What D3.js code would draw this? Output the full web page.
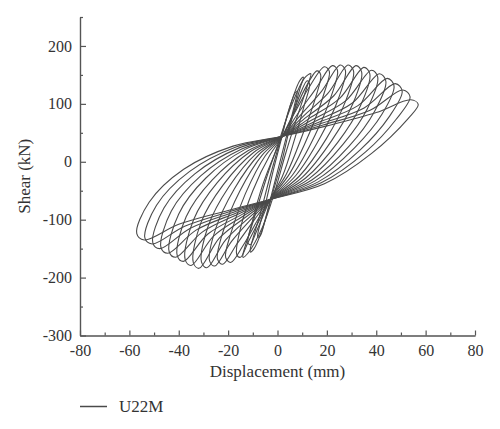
<!DOCTYPE html>
<html>
<head>
<meta charset="utf-8">
<script src="https://cdnjs.cloudflare.com/ajax/libs/d3/7.8.5/d3.min.js"></script>
<style>
  body { margin: 0; background: #fff; }
  svg { display: block; }
  .axis text { font-family: "Liberation Serif", serif; font-size: 16px; fill: #333; }
  .axis path, .axis line { stroke: #555; stroke-width: 1.2; }
  .title { font-family: "Liberation Serif", serif; font-size: 17px; fill: #333; }
</style>
</head>
<body>
<svg id="chart" width="500" height="429"></svg>
<script>
// hysteresis loops, [displacement mm, shear kN]
var loopC1 = [[-8,-125],[-5,-75],[-2,-20],[1,30],[4,80],[7,118],[8,122],[7,100],[4,50],[1,0],[-2,-50],[-5,-100],[-7,-128],[-8,-130]];
var loopC2 = [[-11,-150],[-7,-90],[-3,-25],[1,35],[5,95],[9,140],[10.5,146],[9,125],[5,60],[2,5],[-2,-55],[-6,-115],[-9.5,-150],[-11,-156]];
var loopC3 = [[-14,-160],[-10,-105],[-5,-35],[0,28],[5,90],[11,145],[13.5,152],[12,130],[7,65],[3,10],[-1,-50],[-6,-112],[-12,-158],[-14,-165]];
var loopS1 = [[-12,-140],[-10,-100],[-6,-40],[-1,15],[2,44],[6,80],[9,115],[12,140],[13,134],[11,100],[7,40],[2,-25],[-3,-65],[-6,-95],[-9,-125],[-11,-143]];
var loopS2 = [[-16.5,-160],[-15,-115],[-10,-50],[-3,12],[2,44],[6.5,83],[11,125],[16,157],[17.5,150],[15.5,112],[10,45],[3.5,-22],[-3,-65],[-7,-98],[-12,-140],[-15,-165]];
var loop01 = [[-21,-165],[-19,-125],[-13,-55],[-5,10],[2,44],[7,85],[13,130],[19,164],[21,156],[19,120],[13,50],[5,-20],[-3,-65],[-8,-100],[-14,-145],[-19,-174]];
var loop02 = [[-24.3,-168],[-22,-120],[-15.3,-51],[-6.2,11.5],[2,44],[8.2,83],[15.5,126],[22.2,166],[24.3,158],[21.9,115],[15.3,46.7],[6.3,-21.6],[-3,-65],[-9.1,-98.5],[-16.4,-141.6],[-22.2,-177]];
var loop03 = [[-27.5,-171],[-25,-115],[-17.5,-47],[-7.4,13],[2,44],[9.4,81],[17.9,122],[25.4,167],[27.5,158],[24.8,110.5],[17.5,43.5],[7.5,-23.3],[-3,-65],[-10.2,-97],[-18.7,-138],[-25.4,-180]];
var loop04 = [[-30.8,-173],[-28,-110],[-19.8,-44],[-8.5,14.6],[2,44],[10.5,79],[20.4,118],[28.6,167],[30.8,157],[27.7,106],[19.8,40],[8.8,-25],[-3,-65],[-11.3,-95.6],[-21,-135],[-28.6,-183]];
var loop05 = [[-34.1,-174],[-31,-105],[-22,-40],[-9.7,16],[2,44],[11.7,77],[22.8,114],[31.8,166],[34.1,155],[30.6,101],[22,37],[10.1,-26.5],[-3,-65],[-12.4,-94],[-23.5,-131.5],[-31.8,-184]];
var loop06 = [[-37.4,-169],[-34,-100],[-24.4,-36],[-10.9,17.7],[2,44],[12.9,75],[25.3,110],[35,163],[37.4,152],[33.5,96],[24.4,33.6],[11.4,-28],[-3,-65],[-13.5,-92.7],[-25.8,-128],[-35,-179]];
var loop07 = [[-40.6,-162],[-37,-95],[-26.6,-32],[-12,19],[2,44],[14.1,72.5],[27.7,105.5],[38.1,158],[40.6,146],[36.4,91.6],[26.6,30.4],[12.6,-30],[-3,-65],[-14.5,-91.3],[-28.2,-124.8],[-38.1,-172]];
var loop08 = [[-43.9,-155],[-40,-90],[-29,-28],[-13.3,21],[2,44],[15.3,70],[30.2,101],[41.3,152],[43.9,139],[39.3,87],[29,27],[13.9,-31.5],[-3,-65],[-15.6,-89.8],[-30.5,-121.5],[-41.3,-165]];
var loop09 = [[-47.2,-148],[-43,-85],[-31,-24],[-14.5,22],[2,44],[16.5,68],[32.6,97],[44.5,144],[47.2,131],[42.3,82],[31.2,24],[15.2,-33],[-3,-65],[-16.7,-88.4],[-33,-118],[-44.5,-158]];
var loop10 = [[-50.5,-140],[-46,-80],[-33.5,-21],[-15.6,24],[2,44],[17.6,66],[35.1,93],[47.7,135],[50.5,122],[45.2,77.5],[33.5,20.5],[16.5,-34.7],[-3,-65],[-17.8,-87],[-35.3,-114.7],[-47.7,-150]];
var loop11 = [[-53.7,-132],[-49,-75],[-35.7,-17],[-16.8,25.5],[2,44],[18.8,64],[37.5,89],[50.8,124],[53.7,112],[48,73],[35.7,17],[17.7,-36.4],[-3,-65],[-18.9,-85.5],[-37.6,-111.4],[-50.8,-142]];
var loop12 = [[-57,-124],[-52,-70],[-38,-13],[-18,27],[2,44],[20,62],[40,85],[54,107],[57,99],[53,75],[38,14],[19,-38],[-3,-65],[-20,-84],[-40,-108],[-54,-135]];

var loops = [loopC1, loopC2, loopC3, loopS1, loopS2, loop01, loop02, loop03, loop04,
             loop05, loop06, loop07, loop08, loop09, loop10, loop11, loop12];

var xMajor = [-80, -60, -40, -20, 0, 20, 40, 60, 80];
var xMinor = [-70, -50, -30, -10, 10, 30, 50, 70];
var yMajor = [-300, -200, -100, 0, 100, 200];
var yMinor = [-250, -150, -50, 50, 150, 250];
var seriesName = "U22M";

var svg = d3.select("#chart");

var x = d3.scaleLinear().domain([-80, 80]).range([80, 475]);
var y = d3.scaleLinear().domain([-300, 250]).range([335.5, 17]);

var lineColor = "#4a4a4a";

// loops
var line = d3.line()
    .x(function(d) { return x(d[0]); })
    .y(function(d) { return y(d[1]); })
    .curve(d3.curveCatmullRomClosed.alpha(0.5));

svg.append("g")
    .selectAll("path")
    .data(loops)
    .enter()
    .append("path")
    .attr("d", line)
    .attr("fill", "none")
    .attr("stroke", lineColor)
    .attr("stroke-width", 1.1);

// axes, ticks point inward
svg.append("g")
    .attr("class", "axis")
    .attr("transform", "translate(0," + y(-300) + ")")
    .call(d3.axisBottom(x).tickValues(xMinor).tickSize(-3).tickSizeOuter(0).tickFormat(""));

svg.append("g")
    .attr("class", "axis")
    .attr("transform", "translate(0," + y(-300) + ")")
    .call(d3.axisBottom(x).tickValues(xMajor).tickSize(-5).tickSizeOuter(0).tickPadding(9)
        .tickFormat(function(d) { return String(d); }));

svg.append("g")
    .attr("class", "axis")
    .attr("transform", "translate(" + x(-80) + ",0)")
    .call(d3.axisLeft(y).tickValues(yMinor).tickSize(-3).tickSizeOuter(0).tickFormat(""));

svg.append("g")
    .attr("class", "axis")
    .attr("transform", "translate(" + x(-80) + ",0)")
    .call(d3.axisLeft(y).tickValues(yMajor).tickSize(-6).tickSizeOuter(0).tickPadding(8)
        .tickFormat(function(d) { return String(d); }));

// titles
svg.append("text")
    .attr("class", "title")
    .attr("x", (x(-80) + x(80)) / 2)
    .attr("y", 377)
    .attr("text-anchor", "middle")
    .text("Displacement (mm)");

svg.append("text")
    .attr("class", "title")
    .attr("transform", "translate(30," + ((y(-300) + y(250)) / 2) + ") rotate(-90)")
    .attr("text-anchor", "middle")
    .text("Shear (kN)");

// legend
svg.append("line")
    .attr("x1", 80).attr("x2", 107)
    .attr("y1", 406.5).attr("y2", 406.5)
    .attr("stroke", lineColor)
    .attr("stroke-width", 1.5);

svg.append("text")
    .attr("class", "title")
    .attr("x", 119)
    .attr("y", 412)
    .text(seriesName);
</script>
</body>
</html>
